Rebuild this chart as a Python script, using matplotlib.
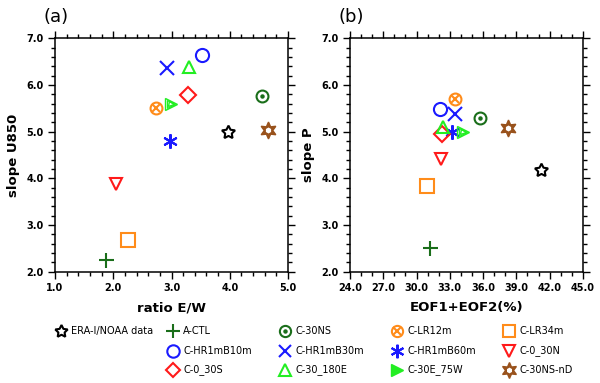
import matplotlib
matplotlib.use("Agg")
import matplotlib.pyplot as plt
from matplotlib.ticker import MultipleLocator, FormatStrFormatter

plt.rcParams['font.family'] = ['DejaVu Sans']

names = ['ERA-I/NOAA data', 'A-CTL', 'C-30NS', 'C-LR12m', 'C-LR34m',
         'C-HR1mB10m', 'C-HR1mB30m', 'C-HR1mB60m', 'C-0_30N',
         'C-0_30S', 'C-30_180E', 'C-30E_75W', 'C-30NS-nD']
ratio_ew = [3.97, 1.88, 4.55, 2.73, 2.26, 3.52, 2.93, 2.97, 2.04, 3.29, 3.30, 2.99, 4.65]
slope_u850 = [5.00, 2.26, 5.76, 5.50, 2.69, 6.64, 6.37, 4.80, 3.87, 5.79, 6.39, 5.59, 5.04]
eof12 = [41.25, 31.2, 35.73, 33.48, 30.9, 32.1, 33.48, 33.18, 32.19, 32.25, 32.34, 34.2, 38.28]
slope_p = [4.18, 2.50, 5.29, 5.70, 3.84, 5.49, 5.39, 5.00, 4.41, 4.96, 5.11, 5.00, 5.07]

# marker kind and colour for each experiment
styles = {
    'ERA-I/NOAA data': ('star', 'black'),
    'A-CTL': ('plus', '#1a6e1a'),
    'C-30NS': ('odot', '#1a6e1a'),
    'C-LR12m': ('otimes', '#ff8c1a'),
    'C-LR34m': ('square', '#ff8c1a'),
    'C-HR1mB10m': ('circle', '#1a1aff'),
    'C-HR1mB30m': ('x', '#1a1aff'),
    'C-HR1mB60m': ('asterisk', '#1a1aff'),
    'C-0_30N': ('down', '#ff1a1a'),
    'C-0_30S': ('diamond', '#ff1a1a'),
    'C-30_180E': ('up', '#22ee22'),
    'C-30E_75W': ('right', '#22ee22'),
    'C-30NS-nD': ('hexagram', '#99521c'),
}

# legend grid: (column, row)
legend_pos = {
    'ERA-I/NOAA data': (0, 0),
    'A-CTL': (1, 0), 'C-HR1mB10m': (1, 1), 'C-0_30S': (1, 2),
    'C-30NS': (2, 0), 'C-HR1mB30m': (2, 1), 'C-30_180E': (2, 2),
    'C-LR12m': (3, 0), 'C-HR1mB60m': (3, 1), 'C-30E_75W': (3, 2),
    'C-LR34m': (4, 0), 'C-0_30N': (4, 1), 'C-30NS-nD': (4, 2),
}


def draw_marker(ax, x, y, name, ms=9, legend=False):
    kind, c = styles[name]
    lw = 1.5
    open_kw = dict(linestyle='none', mfc='none', mec=c, mew=lw)
    if kind == 'star':
        ax.plot(x, y, marker=(5, 1, 0), ms=ms * 1.1, **open_kw)
    elif kind == 'plus':
        ax.plot(x, y, marker='+', ms=ms * 1.2, linestyle='none', mec=c, mew=lw)
    elif kind == 'odot':
        ax.plot(x, y, marker='o', ms=ms * 0.95, **open_kw)
        ax.plot(x, y, marker='o', ms=2.2, linestyle='none', mfc=c, mec=c)
    elif kind == 'otimes':
        ax.plot(x, y, marker='o', ms=ms * 0.95, **open_kw)
        ax.plot(x, y, marker='x', ms=ms * 0.62, linestyle='none', mec=c, mew=lw)
    elif kind == 'square':
        ax.plot(x, y, marker='s', ms=ms * 1.05, **open_kw)
    elif kind == 'circle':
        ax.plot(x, y, marker='o', ms=ms * 1.05, **open_kw)
    elif kind == 'x':
        ax.plot(x, y, marker='x', ms=ms * 1.05, linestyle='none', mec=c, mew=lw)
    elif kind == 'asterisk':
        ax.plot(x, y, marker=(6, 2, 0), ms=ms * 1.15, linestyle='none', mec=c, mew=lw)
    elif kind == 'down':
        ax.plot(x, y, marker='v', ms=ms * 1.0, **open_kw)
    elif kind == 'up':
        ax.plot(x, y, marker='^', ms=ms * 1.0, **open_kw)
    elif kind == 'diamond':
        ax.plot(x, y, marker='D', ms=ms * 0.85, **open_kw)
    elif kind == 'right':
        if legend:
            ax.plot(x, y, marker='>', ms=ms * 1.0, linestyle='none', mfc=c, mec=c)
        else:
            for f in (1.0, 0.7, 0.4):
                ax.plot(x, y, marker='>', ms=ms * f, mfc='none', mec=c,
                        mew=1.0, linestyle='none')
    elif kind == 'hexagram':
        ax.plot(x, y, marker=(6, 1, 0), ms=ms * 1.35, linestyle='none', mfc=c, mec=c)
        ax.plot(x, y, marker='h', ms=ms * 0.35, linestyle='none', mfc='white', mec='white')


fig = plt.figure(figsize=(6, 3.83), dpi=100)
ax_a = fig.add_axes([0.0917, 0.2906, 0.3883, 0.609])
ax_b = fig.add_axes([0.5833, 0.2906, 0.3883, 0.609])

panels = [
    (ax_a, ratio_ew, slope_u850, (1, 5), 1.0, 0.2, 'ratio E/W', 'slope U850', '(a)'),
    (ax_b, eof12, slope_p, (24, 45), 3.0, 1.0, 'EOF1+EOF2(%)', 'slope P', '(b)'),
]

for ax, xs, ys, xlim, xmaj, xmin, xl, yl, tag in panels:
    for n, x, y in zip(names, xs, ys):
        draw_marker(ax, x, y, n)
    ax.set_xlim(*xlim)
    ax.set_ylim(2, 7)
    ax.xaxis.set_major_locator(MultipleLocator(xmaj))
    ax.xaxis.set_minor_locator(MultipleLocator(xmin))
    ax.yaxis.set_major_locator(MultipleLocator(1.0))
    ax.yaxis.set_minor_locator(MultipleLocator(0.2))
    ax.xaxis.set_major_formatter(FormatStrFormatter('%.1f'))
    ax.yaxis.set_major_formatter(FormatStrFormatter('%.1f'))
    ax.tick_params(which='both', direction='out', top=True, right=True,
                   labelsize=7, width=1.0)
    ax.tick_params(which='major', length=5, pad=3)
    ax.tick_params(which='minor', length=3)
    for lab in ax.get_xticklabels() + ax.get_yticklabels():
        lab.set_fontweight('bold')
    for s in ax.spines.values():
        s.set_linewidth(1.1)
    ax.set_xlabel(xl, fontsize=9.5, fontweight='bold', labelpad=6)
    ax.set_ylabel(yl, fontsize=9.5, fontweight='bold', labelpad=5)
    ax.text(-0.05, 1.09, tag, transform=ax.transAxes, fontsize=13,
            ha='left', va='center')

# legend drawn on an invisible full-figure axes in pixel units
ax_leg = fig.add_axes([0, 0, 1, 1])
ax_leg.set_xlim(0, 600)
ax_leg.set_ylim(383, 0)
ax_leg.axis('off')
for n in names:
    col, row = legend_pos[n]
    lx = 61 + 112 * col
    ly = 331 + 19.5 * row
    draw_marker(ax_leg, lx, ly, n, ms=8.5, legend=True)
    ax_leg.text(lx + 10, ly, n, fontsize=7, va='center', ha='left')

fig.savefig('out.png', dpi=100)
